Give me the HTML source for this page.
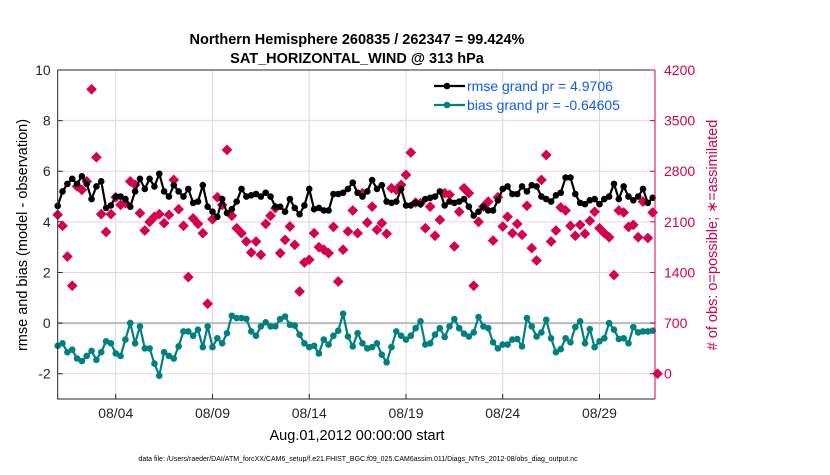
<!DOCTYPE html>
<html><head><meta charset="utf-8"><style>
body{margin:0;background:#fff;width:830px;height:470px;overflow:hidden}
svg{font-family:"Liberation Sans",sans-serif}
</style></head><body>
<svg id="chart" width="830" height="470" viewBox="0 0 830 470" xmlns="http://www.w3.org/2000/svg">
<text x="357" y="44" font-size="14.5" font-weight="bold" text-anchor="middle">Northern Hemisphere 260835 / 262347 = 99.424%</text>
<text x="357" y="63" font-size="14.5" font-weight="bold" text-anchor="middle">SAT_HORIZONTAL_WIND @ 313 hPa</text>
<text transform="translate(27,235) rotate(-90)" font-size="14.5" text-anchor="middle">rmse and bias (model - observation)</text>
<text transform="translate(717,235) rotate(-90)" font-size="14.5" text-anchor="middle" fill="#d6004f"># of obs: o=possible; ∗=assimilated</text>
<text x="357" y="440" font-size="14.5" text-anchor="middle">Aug.01,2012 00:00:00 start</text>
<text x="358" y="461" font-size="7" text-anchor="middle">data file: /Users/raeder/DAI/ATM_forcXX/CAM6_setup/f.e21.FHIST_BGC.f09_025.CAM6assim.011/Diags_NTrS_2012-08/obs_diag_output.nc</text>
<g id="plot"></g>
</svg>
<script>
const rmse=[4.63,5.2,5.5,5.7,5.5,5.8,5.5,4.9,5.4,5.6,4.55,4.65,5.0,5.0,4.9,4.6,5.2,5.7,5.3,5.7,5.4,5.9,5.2,5.0,5.45,5.2,5.0,5.3,4.75,4.8,5.45,4.6,4.4,4.2,4.9,4.35,4.5,4.8,5.3,5.0,5.05,5.1,
5.0,5.15,5.0,4.6,4.6,4.4,4.9,4.55,4.3,4.65,5.3,4.5,4.55,4.45,4.45,5.1,5.1,5.15,5.3,5.55,5.15,5.0,5.2,5.65,5.3,5.45,4.8,4.75,4.8,5.3,4.65,4.65,4.75,4.7,4.9,4.95,5.0,5.2,4.65,4.8,4.75,
4.8,4.9,4.6,4.25,4.4,4.6,4.45,4.45,4.85,5.3,5.4,5.1,5.1,5.4,5.2,5.45,5.4,5.0,4.9,4.8,5.05,5.15,5.75,5.75,5.1,4.75,4.7,4.85,4.9,4.7,4.9,5.0,5.5,4.9,5.4,5.0,4.85,5.0,5.3,4.75,4.95];
const bias=[-0.9,-0.8,-1.15,-1.05,-1.4,-1.5,-1.3,-1.1,-1.45,-1.15,-0.72,-0.8,-1.2,-1.3,-0.65,0,-0.8,-0.13,-1.0,-1.0,-1.6,-2.08,-1.15,-1.3,-1.4,-0.92,-0.33,-0.33,-0.5,-0.26,-0.95,-0.13,-0.95,-0.6,-0.8,-0.4,0.29,0.2,0.2,0.17,-0.33,-0.5,
-0.13,0.03,-0.13,-0.13,0.16,0.26,-0.07,-0.1,-0.46,-0.8,-0.95,-0.9,-1.2,-0.65,-0.85,-0.5,-0.3,0.37,-0.53,-0.92,-0.4,-0.8,-1.0,-0.95,-0.8,-1.25,-1.55,-0.95,-0.33,-0.5,-0.65,-0.5,-0.2,0.07,-0.85,-0.8,-0.46,-0.2,-0.55,-0.13,0.16,
-0.2,-0.42,-0.53,-0.37,0.24,-0.13,-0.2,-0.76,-1.0,-0.85,-0.85,-0.65,-0.63,-0.92,0.2,-0.13,-0.53,-0.37,0.13,-0.6,-1.15,-1.03,-0.6,-0.76,-0.16,0.07,-0.8,-0.24,-0.95,-0.72,-0.6,0,-0.26,-0.63,-0.6,-0.8,-0.16,-0.37,-0.33,-0.33,-0.3];
const obs=[2198,2045,1620,1216,2590,2542,2660,3933,2993,2206,1960,2206,2440,2335,2358,2660,2611,2220,1980,2100,2170,2206,2082,2197,2680,2275,2045,1336,2148,2072,1943,967,2136,2440,2335,3095,2184,2012,1943,1828,1676,1828,
1645,2072,2184,2290,1667,1851,2036,1782,1137,1537,1575,1943,1750,1715,1667,2030,1275,1715,1967,2257,1943,2496,2090,2310,1990,2082,1935,2565,2542,2611,2750,3058,2367,2358,2012,2310,1907,2128,2496,2474,1760,
2240,2565,2496,1216,2100,2310,2380,1841,2440,2036,2170,1943,2072,1921,2322,1736,1565,2680,3024,1828,1980,2300,2257,2045,1907,2058,1935,2114,2240,2012,1943,1887,1365,2257,2230,2030,2058,1887,2380,1876,2230,0];
const xTickDays=[3,8,13,18,23,28];
const xTickLabels=["08/04","08/09","08/14","08/19","08/24","08/29"];
const yTicks=[-2,0,2,4,6,8,10];
const rTicks=[0,700,1400,2100,2800,3500,4200];
const legendLabels=["rmse grand pr = 4.9706","bias grand pr = -0.64605"];

const L=57.7,R=655,T=70,B=399,XMIN=0,XMAX=30.87,YMIN=-3,YMAX=10;
const X=d=>L+(d-XMIN)/(XMAX-XMIN)*(R-L);
const Y=v=>B-(v-YMIN)/(YMAX-YMIN)*(B-T);
const YR=c=>Y(c/350-2);
const NS="http://www.w3.org/2000/svg";
const g=document.getElementById('plot');
function mk(tag,at,parent){const e=document.createElementNS(NS,tag);for(const k in at)e.setAttribute(k,at[k]);(parent||g).appendChild(e);return e;}
const crim="#d6004f",teal="#008080";
// gridlines
rTicks.forEach(c=>{const l=mk('line',{x1:L,x2:R,y1:YR(c),y2:YR(c),stroke:'#f0cfdc','stroke-width':1});

});
xTickDays.forEach(d=>{const l=mk('line',{x1:X(d),x2:X(d),y1:T,y2:B,stroke:'#d8d8d8','stroke-width':1});

});
const z=mk('line',{x1:L,x2:R,y1:Y(0),y2:Y(0),stroke:'#bbbbbb','stroke-width':2});


// obs markers
obs.forEach((c,i)=>{const x=X(i*0.25),y=YR(c),s=4.5;
const m=mk('path',{d:`M${x} ${y-s}L${x+s} ${y}L${x} ${y+s}L${x-s} ${y}Z M${x-s} ${y}H${x+s} M${x} ${y-s}V${y+s}`,fill:crim,stroke:crim,'stroke-width':1.2});

});
function series(arr,col,name){
const p=mk('polyline',{points:arr.map((v,i)=>X(i*0.25)+','+Y(v)).join(' '),fill:'none',stroke:col,'stroke-width':2.2});


arr.forEach((v,i)=>{const c=mk('circle',{cx:X(i*0.25),cy:Y(v),r:3.3,fill:col});

});}
series(rmse,'#000','rmse');
series(bias,teal,'bias');
// axes
const ax=mk('path',{d:`M${L} ${T}V${B}H${R}`,fill:'none',stroke:'#262626','stroke-width':1});


const tp=mk('line',{x1:L,x2:R,y1:T,y2:T,stroke:'#262626','stroke-width':1});


const ra=mk('line',{x1:R,x2:R,y1:T,y2:B,stroke:crim,'stroke-width':1});


yTicks.forEach(v=>{const t=mk('text',{x:L-7,y:Y(v)+5,'font-size':14,'text-anchor':'end',fill:'#262626'});t.textContent=v;


mk('line',{x1:L,x2:L+5,y1:Y(v),y2:Y(v),stroke:'#262626'});});
rTicks.forEach(c=>{const t=mk('text',{x:R+9,y:YR(c)+5,'font-size':14,fill:crim});t.textContent=c;


mk('line',{x1:R-5,x2:R,y1:YR(c),y2:YR(c),stroke:crim});});
xTickDays.forEach((d,i)=>{const t=mk('text',{x:X(d),y:418,'font-size':14,'text-anchor':'middle',fill:'#262626'});t.textContent=xTickLabels[i];


mk('line',{x1:X(d),x2:X(d),y1:B,y2:B-5,stroke:'#262626'});});
// legend
[['#000',86],[teal,105]].forEach((e,i)=>{
const l=mk('line',{x1:434,x2:465,y1:e[1],y2:e[1],stroke:e[0],'stroke-width':2.2});


mk('circle',{cx:447,cy:e[1],r:3.3,fill:e[0]});
const t=mk('text',{x:467,y:e[1]+5,'font-size':14,fill:'#0d5cf2'});t.textContent=legendLabels[i];

});
</script>
</body></html>
